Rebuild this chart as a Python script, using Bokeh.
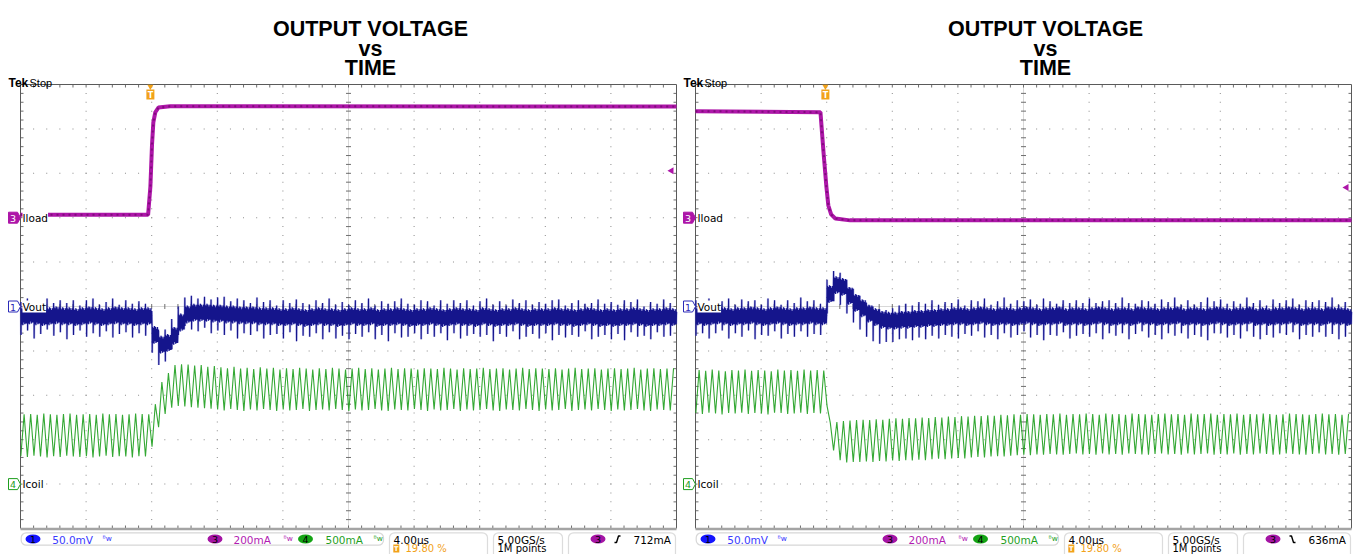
import numpy as np
from bokeh.plotting import figure
from bokeh.models import Range1d, Label, BoxAnnotation
from bokeh.embed import file_html
from bokeh.resources import INLINE

# ------------------------------------------------------------------ data
TITLE_LINES = ["OUTPUT VOLTAGE", "vs", "TIME"]
US_PER_DIV = 4.0            # horizontal scale
TRIG_POS = 0.198            # trigger position, 19.80 %
CH1_MV_PER_DIV = 50.0       # Vout
CH3_MA_PER_DIV = 200.0      # Iload
CH4_MA_PER_DIV = 500.0      # Icoil
CH3_OFFSET_MA = 500.0
CH4_OFFSET_MA = 0.0
SW_PERIOD_US = 0.4          # switching period read from the ripple
FIRST_CYCLE_US = -7.9
TRIG_LEVEL_MA = [712, 636]  # left, right
STATUS_CH = ["50.0mV", "200mA", "500mA"]
STATUS_TIME = ["4.00\u00b5s", "19.80 %"]
STATUS_RATE = ["5.00GS/s", "1M points"]
TRIG_TEXT = ["712mA", "636mA"]

# Iload (mA) -- left: 0.5 A -> 1 A step, right: 1 A -> 0.5 A step
iload_L_t = [-7.92, -0.14, 0.0, 0.1, 0.18, 0.3, 0.49, 1.2, 32.08]
iload_L_v = [513, 513, 640, 830, 929, 975, 996, 1002, 1001]
iload_R_t = [-7.92, -0.30, -0.12, 0.06, 0.18, 0.35, 0.61, 1.5, 32.08]
iload_R_v = [980, 975, 800, 640, 555, 515, 496, 488, 488]

# Icoil (mA): trough and peak of each switching cycle
icoil_L_trough = [315, 305, 320, 310, 300, 315, 305, 320, 310, 305,
                  315, 300, 310, 320, 305, 315, 310, 300, 315, 310,
                  420, 640, 790, 860, 880, 875, 865, 860, 855, 850,
                  840, 830, 845, 835, 825, 840, 830, 845, 835, 825,
                  840, 830, 835, 845, 825, 835, 840, 830, 845, 835,
                  825, 840, 830, 835, 845, 830, 825, 840, 835, 830,
                  845, 835, 825, 840, 830, 835, 845, 825, 840, 830,
                  835, 845, 830, 825, 840, 835, 830, 845, 835, 825,
                  840, 830, 835, 845, 825, 835, 840, 830, 845, 835,
                  825, 840, 830, 835, 845, 830, 825, 840, 835, 830]
icoil_L_peak = [785, 790, 780, 795, 785, 780, 790, 795, 780, 785,
                790, 780, 795, 785, 790, 780, 785, 795, 790, 785,
                900, 1150, 1250, 1340, 1350, 1345, 1335, 1340, 1320, 1330,
                1315, 1305, 1320, 1300, 1310, 1295, 1315, 1300, 1310, 1290,
                1305, 1295, 1310, 1300, 1290, 1305, 1295, 1310, 1300, 1290,
                1300, 1310, 1295, 1305, 1290, 1300, 1310, 1295, 1305, 1300,
                1290, 1305, 1300, 1295, 1310, 1300, 1290, 1305, 1295, 1300,
                1310, 1295, 1300, 1305, 1290, 1300, 1310, 1295, 1305, 1300,
                1295, 1305, 1290, 1300, 1310, 1295, 1300, 1305, 1290, 1300,
                1305, 1295, 1300, 1310, 1290, 1300, 1305, 1295, 1300, 1305]
icoil_R_trough = [800, 790, 805, 795, 785, 800, 795, 805, 790, 800,
                  795, 785, 805, 800, 790, 795, 805, 790, 800, 795,
                  880, 380, 270, 245, 250, 250, 255, 250, 260, 255,
                  265, 260, 270, 265, 275, 270, 280, 285, 280, 290,
                  295, 290, 300, 305, 300, 310, 315, 310, 320, 325,
                  330, 325, 335, 330, 340, 335, 330, 340, 345, 335,
                  340, 330, 345, 335, 340, 330, 345, 340, 335, 330,
                  340, 345, 335, 340, 330, 345, 335, 340, 345, 330,
                  340, 335, 345, 330, 340, 335, 345, 340, 330, 335,
                  345, 340, 335, 330, 340, 345, 335, 340, 330, 340]
icoil_R_peak = [1285, 1275, 1290, 1280, 1270, 1285, 1280, 1290, 1275, 1285,
                1280, 1270, 1290, 1280, 1285, 1275, 1290, 1280, 1285, 1280,
                690, 700, 710, 715, 720, 725, 720, 730, 725, 735,
                740, 735, 745, 740, 750, 745, 755, 750, 760, 755,
                765, 760, 770, 765, 775, 770, 780, 775, 785, 780,
                790, 785, 780, 790, 785, 795, 780, 790, 785, 795,
                790, 780, 795, 785, 790, 780, 795, 790, 785, 780,
                790, 795, 785, 790, 780, 795, 785, 790, 795, 780,
                790, 785, 795, 780, 790, 785, 795, 790, 780, 785,
                795, 790, 785, 780, 790, 795, 785, 790, 780, 790]

# Vout (mV, AC coupled): mean level of each switching cycle
vout_L_mean = [-11, -10, -11, -12, -11, -10, -11, -11, -12, -11,
               -10, -11, -12, -11, -10, -11, -11, -12, -11, -11,
               -32, -43, -41, -33, -18, -9, -7, -7, -7, -8,
               -8, -9, -9, -10, -10, -10, -11, -11, -11, -12,
               -12, -11, -12, -13, -12, -11, -12, -12, -13, -12,
               -11, -12, -12, -11, -13, -12, -12, -11, -12, -13,
               -12, -12, -11, -12, -13, -12, -11, -12, -12, -13,
               -11, -12, -13, -12, -12, -11, -12, -13, -12, -12,
               -12, -11, -12, -12, -13, -12, -11, -12, -13, -12,
               -13, -12, -12, -11, -12, -13, -12, -12, -11, -12]
vout_R_mean = [-11, -12, -11, -10, -11, -12, -11, -11, -10, -11,
               -12, -11, -10, -11, -12, -11, -11, -10, -11, -11,
               14, 24, 22, 12, 4, -2, -8, -12, -15, -16,
               -16, -15, -15, -14, -14, -13, -13, -12, -12, -11,
               -11, -12, -11, -10, -11, -12, -11, -11, -12, -11,
               -10, -11, -12, -11, -11, -10, -12, -11, -11, -12,
               -11, -10, -11, -12, -11, -11, -12, -10, -11, -11,
               -12, -11, -11, -10, -12, -11, -11, -12, -11, -10,
               -11, -12, -11, -11, -10, -12, -11, -12, -11, -11,
               -10, -11, -12, -11, -11, -12, -10, -11, -11, -12]
# switching spikes of each cycle (mV, relative to the cycle mean)
vout_L_up = [16, 19, 13, 17, 20, 14, 18, 15, 19, 12,
             17, 20, 14, 16, 19, 13, 18, 15, 17, 14,
             12, 15, 15, 19, 18, 19, 19, 16, 18, 16,
             18, 20, 15, 19, 17, 14, 21, 16, 18, 13,
             19, 15, 20, 17, 14, 18, 16, 21, 15, 17,
             13, 19, 16, 20, 14, 18, 15, 17, 21, 16,
             14, 19, 17, 13, 20, 15, 18, 16, 19, 14,
             17, 21, 15, 18, 13, 19, 16, 20, 14, 17,
             15, 18, 20, 13, 17, 19, 14, 16, 21, 15,
             18, 14, 19, 16, 20, 13, 17, 15, 19, 16]
vout_L_dn = [-21, -17, -25, -19, -15, -23, -18, -26, -20, -16,
             -24, -19, -22, -17, -25, -20, -18, -23, -19, -22,
             -20, -23, -21, -15, -14, -13, -19, -21, -17, -22,
             -19, -23, -18, -26, -20, -22, -17, -25, -21, -19,
             -24, -18, -27, -20, -22, -19, -25, -17, -23, -21,
             -26, -19, -22, -18, -24, -20, -27, -19, -23, -21,
             -18, -25, -20, -22, -17, -26, -19, -24, -21, -18,
             -23, -20, -26, -19, -22, -17, -25, -21, -19, -24,
             -18, -27, -20, -23, -19, -22, -17, -25, -21, -20,
             -24, -19, -26, -18, -22, -20, -25, -17, -23, -21]
vout_R_up = [18, 15, 20, 14, 17, 21, 13, 19, 16, 18,
             14, 20, 17, 13, 19, 15, 21, 16, 18, 14,
             16, 16, 16, 18, 16, 14, 12, 12, 12, 12,
             14, 16, 18, 15, 19, 16, 20, 14, 17, 15,
             19, 13, 18, 16, 20, 14, 17, 21, 15, 18,
             16, 19, 14, 20, 17, 13, 19, 15, 18, 16,
             20, 14, 17, 19, 15, 21, 16, 13, 18, 17,
             15, 19, 16, 20, 14, 18, 13, 17, 21, 16,
             19, 15, 17, 14, 20, 16, 18, 13, 19, 15,
             17, 20, 14, 18, 16, 19, 15, 21, 13, 17]
vout_R_dn = [-22, -18, -25, -20, -16, -24, -19, -23, -17, -26,
             -20, -22, -18, -25, -19, -23, -17, -24, -20, -21,
             -22, -18, -20, -20, -22, -24, -26, -27, -27, -24,
             -24, -22, -21, -24, -21, -24, -20, -24, -20, -23,
             -25, -19, -22, -18, -24, -20, -26, -19, -23, -21,
             -18, -24, -20, -27, -21, -23, -17, -25, -22, -19,
             -23, -20, -26, -18, -22, -19, -25, -21, -17, -24,
             -20, -26, -19, -23, -18, -25, -21, -22, -27, -20,
             -19, -23, -21, -25, -18, -22, -26, -20, -24, -19,
             -22, -18, -25, -21, -23, -17, -24, -20, -26, -22]
# ringing inside one switching cycle, after the spikes (µs from cycle start, mV)
RING_T = [0.03, 0.06, 0.09, 0.12, 0.15, 0.18, 0.21, 0.24, 0.27, 0.30, 0.33, 0.36, 0.385]
RING_V = [9, -9, 8, -10, 10, -7, 9, -9, 7, -8, 9, -8, 6]

# ------------------------------------------------------------------ layout (pixels, image coords from top-left)
W, H = 1354, 554
SX = [20.0, 695.0]        # left edge of each scope screen
SY = 84.0                 # top edge of the screens
DX, DY = 65.6, 44.4       # division size
NDIV = 10
CH_POS = {"ch1": 5, "ch3": 3, "ch4": 9}   # marker position, divisions from top
OFFSETS = [0.0, 675.0]

BLUE, PURPLE, GREEN, ORANGE = "#2a2ab8", "#ad16a8", "#1e9e1e", "#f2a21a"


def Y(yi):
    return H - yi


p = figure(width=W, height=H, x_range=Range1d(0, W), y_range=Range1d(0, H),
           output_backend="svg", toolbar_location=None, min_border=0,
           x_axis_location=None, y_axis_location=None)
p.grid.visible = False
p.outline_line_color = None
p.background_fill_color = "white"
p.border_fill_color = "white"


def t_range(sx):
    trig_px = sx + TRIG_POS * NDIV * DX
    k = US_PER_DIV / DX
    return Range1d((0 - trig_px) * k, (W - trig_px) * k)


def ch_range(pos_div, offset, per_div):
    y_mark = SY + pos_div * DY
    return Range1d(offset - (H - y_mark) / DY * per_div, offset + y_mark / DY * per_div)


p.extra_x_ranges = {"tL": t_range(SX[0]), "tR": t_range(SX[1])}
p.extra_y_ranges = {
    "ch1": ch_range(CH_POS["ch1"], 0.0, CH1_MV_PER_DIV),
    "ch3": ch_range(CH_POS["ch3"], CH3_OFFSET_MA, CH3_MA_PER_DIV),
    "ch4": ch_range(CH_POS["ch4"], CH4_OFFSET_MA, CH4_MA_PER_DIV),
}


def label(x, yi, text, size="10.5px", color="black", font="DejaVu Sans", style="normal",
          align="left", baseline="middle", bg=None):
    p.add_layout(Label(x=x, y=Y(yi), text=text, text_font=font, text_font_size=size,
                       text_color=color, text_font_style=style, text_align=align,
                       text_baseline=baseline, background_fill_color=bg))


def graticule(sx):
    wpx, hpx = NDIV * DX, NDIV * DY
    xs, ys = [], []
    for i in range(1, NDIV):
        if i == 5:
            continue
        for j in range(1, 5 * NDIV):
            xs.append(sx + i * DX); ys.append(Y(SY + j * DY / 5))
            xs.append(sx + j * DX / 5); ys.append(Y(SY + i * DY))
    p.rect(xs, ys, width=1.0, height=1.0, fill_color="#8c8c8c", line_color=None)
    cx, cy = sx + 5 * DX, SY + 5 * DY
    p.segment([cx, sx], [Y(SY), Y(cy)], [cx, sx + wpx], [Y(SY + hpx), Y(cy)],
              line_color="#b0b0b0", line_width=1, line_dash="1 1")
    tx0, ty0, tx1, ty1 = [], [], [], []
    for j in range(1, 5 * NDIV):
        y = SY + j * DY / 5
        x = sx + j * DX / 5
        tx0 += [cx - 2.5, x, sx, sx + wpx - 3, x, x]
        ty0 += [Y(y), Y(cy - 2.5), Y(y), Y(y), Y(SY), Y(SY + hpx - 3)]
        tx1 += [cx + 2.5, x, sx + 3, sx + wpx, x, x]
        ty1 += [Y(y), Y(cy + 2.5), Y(y), Y(y), Y(SY + 3), Y(SY + hpx)]
    p.segment(tx0, ty0, tx1, ty1, line_color="#6e6e6e", line_width=1)
    p.segment([sx, sx, sx + wpx], [Y(SY)] * 3, [sx + wpx, sx, sx + wpx], [Y(SY), Y(SY + hpx), Y(SY + hpx)],
              line_color="#5a5a5a", line_width=1)
    p.segment([sx], [Y(SY + hpx + 0.5)], [sx + wpx], [Y(SY + hpx + 0.5)], line_color="#a4a4a4", line_width=2.5)


def triangle(troughs, peaks):
    t, v = [], []
    for k, (lo, hi) in enumerate(zip(troughs, peaks)):
        tk = FIRST_CYCLE_US + k * SW_PERIOD_US
        t += [tk, tk + SW_PERIOD_US / 2]
        v += [lo, hi]
    return t, v


def vout_trace(mean, up, dn):
    t, v = [], []
    for k, (m, u, d) in enumerate(zip(mean, up, dn)):
        tk = FIRST_CYCLE_US + k * SW_PERIOD_US
        t += [tk, tk + 0.012] + [tk + r for r in RING_T]
        v += [m + u, m + d] + [m + r for r in RING_V]
    return t, v


panels = [
    dict(xr="tL", iload=(iload_L_t, iload_L_v), icoil=(icoil_L_trough, icoil_L_peak),
         vout=(vout_L_mean, vout_L_up, vout_L_dn)),
    dict(xr="tR", iload=(iload_R_t, iload_R_v), icoil=(icoil_R_trough, icoil_R_peak),
         vout=(vout_R_mean, vout_R_up, vout_R_dn)),
]

for n, pan in enumerate(panels):
    sx, ox = SX[n], OFFSETS[n]
    graticule(sx)
    xr = pan["xr"]
    # Icoil
    tt, vv = triangle(*pan["icoil"])
    p.line(tt, vv, x_range_name=xr, y_range_name="ch4", line_color=GREEN, line_width=1.1, line_alpha=0.9)
    # Vout
    vt, vy = vout_trace(*pan["vout"])
    p.line(vt, vy, x_range_name=xr, y_range_name="ch1", line_color="#6a6ad8", line_width=2.2, line_alpha=0.45)
    p.line(vt, vy, x_range_name=xr, y_range_name="ch1", line_color="#15158c", line_width=1.1)
    # Iload
    it, iv = pan["iload"]
    p.line(it, iv, x_range_name=xr, y_range_name="ch3", line_color=PURPLE, line_width=4)
    p.line(it, iv, x_range_name=xr, y_range_name="ch3", line_color="#4a0046", line_width=2,
           line_alpha=0.45, line_dash="2 4")
    # trigger level arrow
    p.scatter(x=[sx + NDIV * DX - 5], y=[TRIG_LEVEL_MA[n]], y_range_name="ch3",
              marker="triangle", angle=np.pi / 2, size=7, fill_color=PURPLE, line_color=None)
    # trigger position marker
    tx = sx + TRIG_POS * NDIV * DX
    p.scatter(x=[tx], y=[Y(SY + 2)], marker="inverted_triangle", size=6, fill_color=ORANGE, line_color=None)
    p.rect(x=[tx], y=[Y(SY + 10)], width=8, height=10, fill_color=ORANGE, line_color=None)
    label(tx, SY + 10.5, "T", size="8px", color="white", style="bold", align="center")

    # channel markers + labels
    for ch, col, filled, num in [("ch1", BLUE, False, "1"), ("ch3", PURPLE, True, "3"), ("ch4", GREEN, False, "4")]:
        yc = SY + CH_POS[ch] * DY
        x0 = 8 + ox
        p.patch([x0, x0 + 9, x0 + 12, x0 + 9, x0], [Y(yc - 5.5), Y(yc - 5.5), Y(yc), Y(yc + 5.5), Y(yc + 5.5)],
                fill_color=col if filled else "white", line_color=col, line_width=1)
        label(x0 + 4.5, yc + 0.5, num, size="9.5px", color="white" if filled else col, align="center")
    for ch, txt in [("ch1", "Vout"), ("ch3", "Iload"), ("ch4", "Icoil")]:
        label(ox + 22, SY + CH_POS[ch] * DY, txt, bg="white")

    # titles
    tcx = 370 + ox
    for line, yb in zip(TITLE_LINES, [28, 48, 67]):
        label(tcx, yb, line, size="21.5px", font="Liberation Sans", style="bold", align="center",
              baseline="alphabetic")
    label(8 + ox, 82.5, "Tek", size="12px", font="Liberation Sans", style="bold", baseline="alphabetic")
    label(29 + ox, 82.5, "Stop", size="11px", font="Liberation Sans", baseline="alphabetic")

    # status bar
    p.add_layout(BoxAnnotation(left=20.7 + ox, right=383 + ox, top=Y(532.3), bottom=Y(544.7), fill_color="white",
                               fill_alpha=1, line_color="#7a7a7a", line_width=1.2, border_radius=5,
                               level="underlay"))
    for l, r in [(389, 487), (493, 562), (568, 675)]:
        p.add_layout(BoxAnnotation(left=l + ox, right=r + ox, top=Y(532.3), bottom=Y(562), fill_color="white",
                                   fill_alpha=1, line_color="#8a8a8a", line_width=1.2, border_radius=5,
                                   level="underlay"))
    ex = [32.5 + ox, 214.5 + ox, 305 + ox, 597.5 + ox]
    p.ellipse(x=ex, y=[Y(538.5)] * 4, width=15, height=9,
              fill_color=["#1414ff", "#a414a4", "#14a414", "#a414a4"], line_color=None)
    for x, num in zip(ex, ["1", "3", "4", "3"]):
        label(x, 539, num, size="9.5px", align="center")
    label(51.7 + ox, 539, STATUS_CH[0], color="#3a3aff")
    label(233 + ox, 539, STATUS_CH[1], color="#b21cb2")
    label(325 + ox, 539, STATUS_CH[2], color="#1f9f1f")
    for x, col in [(102 + ox, "#3a3aff"), (283 + ox, "#b21cb2"), (373 + ox, "#1f9f1f")]:
        label(x, 538, "\u1d2ew", size="7.5px", color=col)
    label(393 + ox, 539, STATUS_TIME[0])
    p.rect(x=[395.8 + ox], y=[Y(548)], width=6, height=8, fill_color=ORANGE, line_color=None)
    label(395.8 + ox, 548.5, "T", size="6.5px", color="white", style="bold", align="center")
    label(405 + ox, 548, STATUS_TIME[1], size="10px", color=ORANGE)
    label(497 + ox, 539, STATUS_RATE[0])
    label(497 + ox, 548, STATUS_RATE[1], size="10px")
    sxp = 617 + ox
    if n == 0:
        p.line([sxp - 3, sxp - 1, sxp + 1, sxp + 3], [Y(542), Y(542), Y(535.5), Y(535.5)], line_color="black", line_width=1.4)
    else:
        p.line([sxp - 3, sxp - 1, sxp + 1, sxp + 3], [Y(535.5), Y(535.5), Y(542), Y(542)], line_color="black", line_width=1.4)
    label(633 + ox, 539, TRIG_TEXT[n])

open("out.html", "w").write(file_html(p, INLINE))
